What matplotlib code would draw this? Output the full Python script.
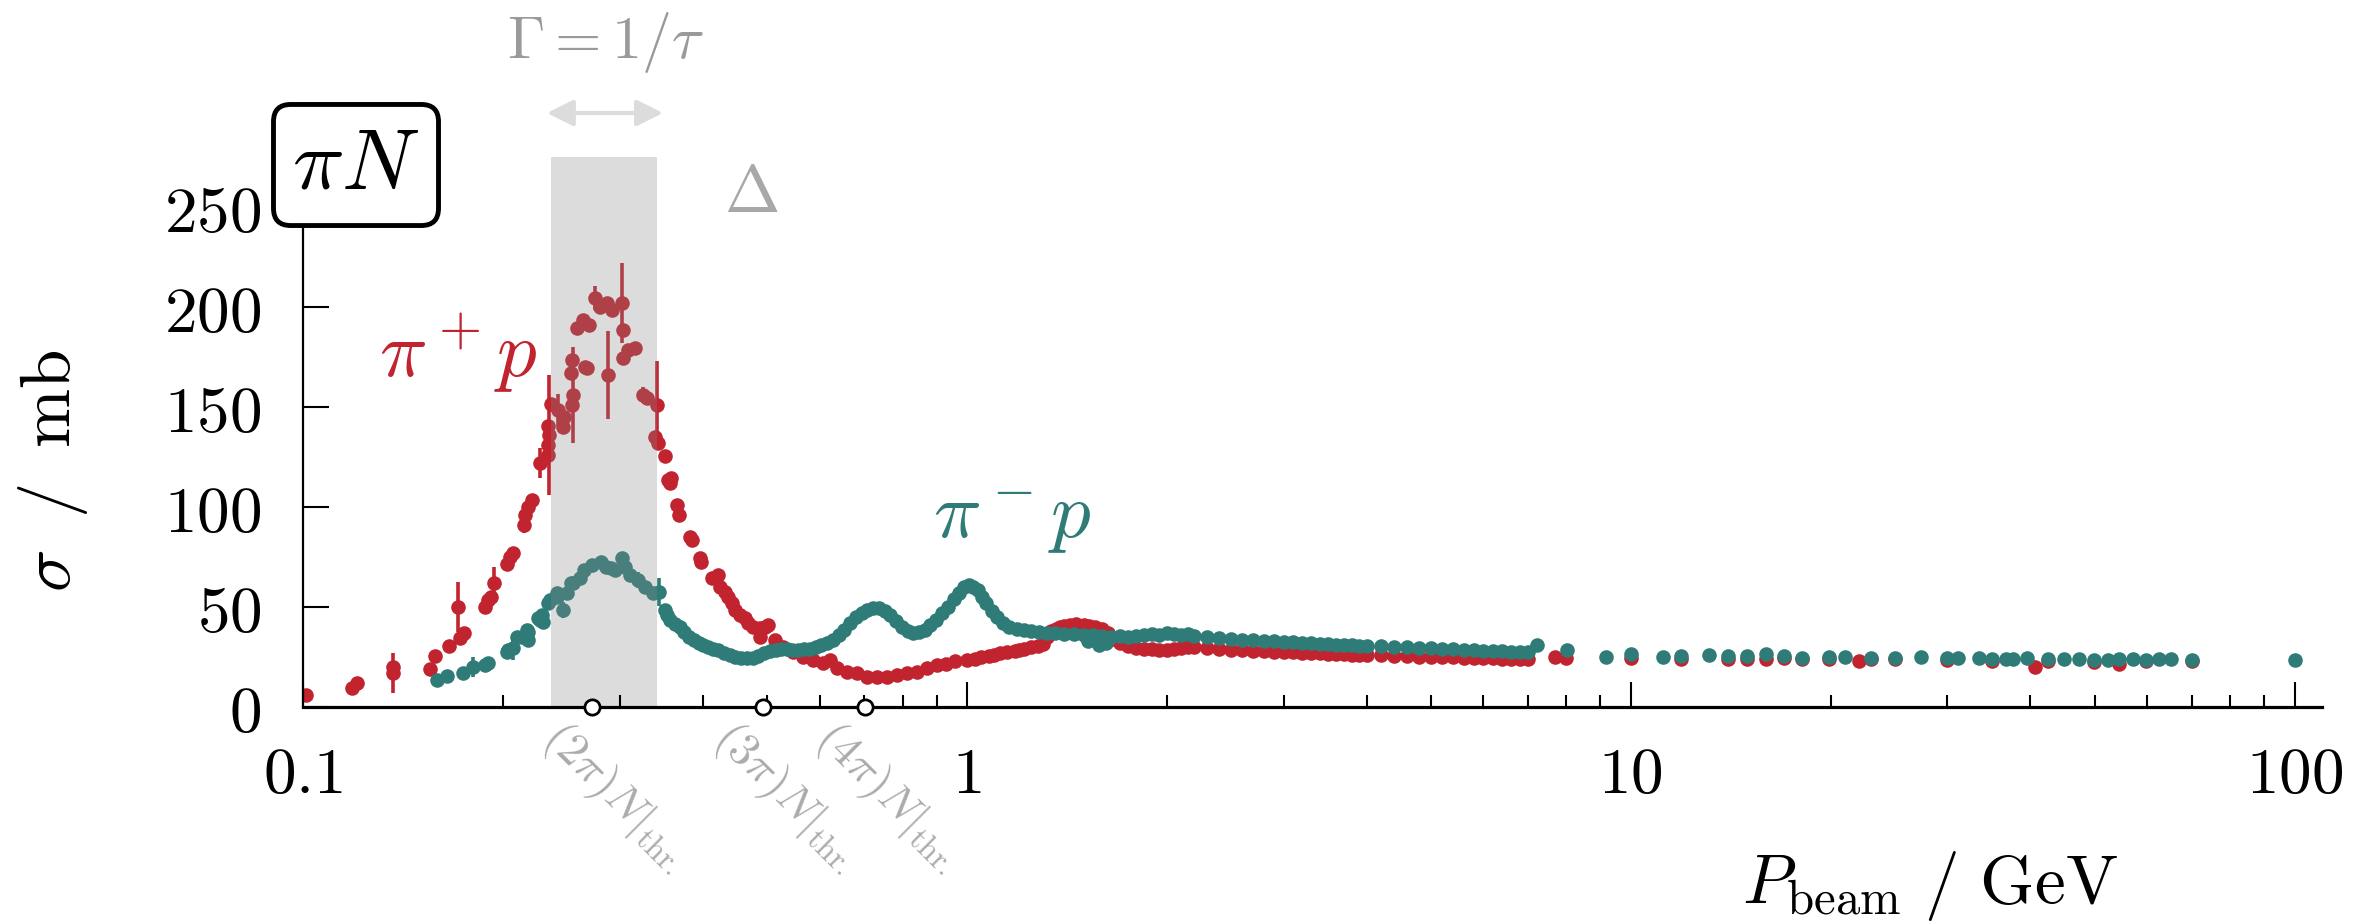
import matplotlib
matplotlib.use('Agg')
import matplotlib.pyplot as plt
from matplotlib.ticker import NullFormatter

plt.rcParams['mathtext.fontset'] = 'cm'
plt.rcParams['font.family'] = ['DejaVu Serif']

# pi+ p total cross section (p_beam [GeV], sigma [mb], error [mb])
pip_p = [0.101, 0.1185, 0.1206, 0.1366, 0.1366, 0.1553, 0.158, 0.166, 0.171, 0.1725,
         0.175, 0.188, 0.190, 0.192, 0.194, 0.203, 0.205, 0.207, 0.215, 0.216,
         0.218, 0.221, 0.2275, 0.2336, 0.234, 0.2336, 0.236, 0.235, 0.242, 0.246,
         0.2475, 0.254, 0.2535, 0.254, 0.255, 0.259, 0.264, 0.266, 0.268, 0.27,
         0.275, 0.28, 0.287, 0.292, 0.288, 0.302, 0.303, 0.303, 0.309, 0.316,
         0.325, 0.33, 0.339, 0.341, 0.342, 0.351, 0.355, 0.358, 0.357, 0.366,
         0.369, 0.383, 0.385, 0.396, 0.398, 0.413, 0.422, 0.425, 0.432, 0.436,
         0.443, 0.447, 0.455, 0.463, 0.468, 0.476, 0.488, 0.497, 0.502, 0.488,
         0.514, 0.528, 0.547, 0.566, 0.586, 0.607, 0.622, 0.637, 0.659, 0.683,
         0.707, 0.732, 0.758, 0.785, 0.812, 0.841, 0.871, 0.901, 0.93, 0.96,
         1.0, 1.03, 1.05, 1.08, 1.1, 1.12, 1.15, 1.18, 1.2, 1.22,
         1.25, 1.28, 1.3, 1.32, 1.34, 1.36, 1.38, 1.4, 1.43, 1.46,
         1.5, 1.53, 1.56, 1.6, 1.63, 1.66, 1.7, 1.75, 1.8, 1.85,
         1.9, 1.95, 2.0, 2.05, 2.1, 2.15, 2.2, 2.3, 2.4, 2.5,
         2.6, 2.7, 2.8, 2.9, 3.0, 3.1, 3.2, 3.3, 3.4, 3.5,
         3.6, 3.7, 3.8, 3.9, 4.0, 4.2, 4.4, 4.6, 4.8, 5.0,
         5.2, 5.4, 5.6, 5.8, 6.0, 6.2, 6.4, 6.6, 6.8, 7.0,
         7.68, 8.0, 10.0, 11.9, 14.0, 14.95, 15.97, 17.0, 18.1, 19.9,
         22.05, 23.0, 25.0, 30.0, 35.0, 40.7, 42.5, 49.8, 54.3, 59.7,
         70.0]
pip_sig = [6, 9.5, 12, 17, 20, 19, 25.5, 30.5, 50, 34.5,
           37, 50, 53.5, 55, 62, 71.5, 75, 77, 91, 96,
           100, 103.5, 122, 131, 126, 140.5, 151.5, 136, 148.5, 140,
           145, 173.5, 167, 151, 156, 189.5, 193.5, 170, 169.5, 191,
           204.5, 200, 202, 198.5, 166, 202, 188.5, 174.5, 178.5, 179.5,
           156, 154.5, 135, 151, 132, 125.5, 113.5, 114.5, 112, 101,
           96, 85, 83.5, 74.5, 72.5, 64.5, 66, 60, 57.5, 55,
           52, 48.5, 46, 44.5, 42, 40, 39.5, 40, 41, 35,
           33.5, 30, 27.5, 25, 23.5, 22, 23.5, 19.5, 17.5, 17,
           15, 15, 15, 16, 17, 17.5, 19.5, 21, 21.5, 23,
           23.5, 24, 25, 25.5, 26, 27, 27.5, 28, 28.5, 29,
           30, 30.5, 31.5, 35, 38, 39, 40, 40.5, 41, 41.5,
           41, 40.5, 40, 39, 37, 34, 32, 30.5, 29.5, 29,
           29, 28.5, 28.5, 29, 29.5, 30, 30, 29.5, 29, 28.5,
           28.5, 28, 28, 27.5, 27.5, 27.5, 27, 27, 27, 26.5,
           26.5, 26.5, 26, 26, 26, 26, 25.5, 25.5, 25, 25,
           25, 25, 24.5, 24.5, 24.5, 24.5, 24, 24, 24, 24,
           25, 24.5, 24.5, 24, 24, 24, 24, 24.5, 24, 24,
           23, 24, 24, 23.5, 23, 20, 23, 22.5, 21.5, 23,
           23]
pip_err = [0, 0, 0, 10, 0, 0, 0, 0, 12.5, 0,
           0, 0, 0, 0, 8, 0, 0, 0, 4, 0,
           0, 0, 7.5, 0, 0, 0, 0, 30, 8, 0,
           0, 0, 0, 0, 24, 0, 0, 0, 0, 0,
           6, 0, 0, 0, 22, 20, 0, 0, 0, 0,
           4, 0, 0, 22, 0, 0, 0, 0, 0, 0]
pip_err = pip_err + [0] * (len(pip_p) - len(pip_err))

# pi- p total cross section
pim_p = [0.159, 0.1648, 0.174, 0.180, 0.188, 0.190, 0.2035, 0.203, 0.207, 0.210,
         0.214, 0.2175, 0.218, 0.218, 0.226, 0.2275, 0.229, 0.23, 0.2336, 0.2355,
         0.241, 0.241, 0.246, 0.250, 0.2533, 0.255, 0.261, 0.265, 0.272, 0.281,
         0.286, 0.291, 0.295, 0.302, 0.306, 0.311, 0.320, 0.327, 0.337, 0.344,
         0.3504, 0.354, 0.3574, 0.363, 0.3694, 0.375, 0.3818, 0.388, 0.3948, 0.401,
         0.4081, 0.415, 0.4218, 0.430, 0.4390, 0.448, 0.4569, 0.466, 0.4755, 0.485,
         0.4949, 0.505, 0.5149, 0.525, 0.5357, 0.546, 0.5575, 0.569, 0.5801, 0.592,
         0.6037, 0.616, 0.6283, 0.641, 0.6538, 0.667, 0.6804, 0.694, 0.7080, 0.722,
         0.7368, 0.752, 0.7667, 0.782, 0.7977, 0.814, 0.8301, 0.847, 0.8638, 0.881,
         0.8990, 0.917, 0.9357, 0.955, 0.9734, 0.99, 1.0063, 1.023, 1.040, 1.054,
         1.068, 1.09, 1.111, 1.134, 1.157, 1.19, 1.220, 1.25, 1.286, 1.32,
         1.357, 1.40, 1.449, 1.50, 1.52, 1.549, 1.58, 1.6, 1.62, 1.65,
         1.7, 1.75, 1.8, 1.85, 1.9, 1.95, 2.0, 2.05, 2.1, 2.15,
         2.2, 2.3, 2.4, 2.5, 2.6, 2.7, 2.8, 2.9, 3.0, 3.1,
         3.2, 3.3, 3.4, 3.5, 3.6, 3.7, 3.8, 3.9, 4.0, 4.2,
         4.4, 4.6, 4.8, 5.0, 5.2, 5.4, 5.6, 5.8, 6.0, 6.2,
         6.4, 6.6, 6.8, 7.0, 7.22, 8.01, 9.17, 10.0, 11.2, 11.9,
         13.1, 14.0, 14.95, 15.97, 17.0, 18.1, 19.9, 21.0, 23.0, 25.0,
         27.4, 30.0, 31.1, 33.5, 35.0, 36.8, 37.6, 39.6, 42.5, 45.0,
         47.3, 49.8, 52.3, 54.3, 57.0, 59.7, 62.4, 65.1, 70.0, 100.0]
pim_sig = [13.5, 15.5, 17, 20, 21, 22, 28.5, 27.5, 29.5, 35,
           35, 38.5, 37.5, 33.5, 44.5, 43.5, 46, 42.5, 52, 53.5,
           55, 57, 48.5, 57, 62, 62, 64.5, 68.5, 71, 72.5,
           70, 69.5, 68.5, 74.5, 70, 66, 63.5, 60, 57, 57.5,
           48.5, 46, 43.5, 41.5, 40, 37.5, 35, 33.5, 32, 31,
           30, 29, 28.5, 27, 26, 25, 24.5, 24.5, 24.5, 25.5,
           27, 28, 28.5, 29, 29, 28.5, 28.5, 29, 29, 30,
           31, 32, 33.5, 36, 38.5, 42, 45, 47, 48.5, 49.5,
           49.5, 48, 46, 43, 40, 38, 37, 37.5, 38.5, 41,
           43.5, 47, 50, 54, 57, 60, 61, 60, 58.5, 55,
           52, 48, 45, 42, 40, 39, 38.5, 38, 37.5, 37,
           37, 36.5, 36.5, 36, 33, 36, 31, 35.5, 32, 35,
           35.5, 35, 35.5, 36, 36.5, 36, 37, 36.5, 36, 36.5,
           35.5, 35, 34.5, 34, 33.5, 33.5, 33, 33, 32.5, 32.5,
           32, 32, 31.5, 31.5, 31, 31, 31, 30.5, 30.5, 30.5,
           30, 30, 29.5, 29.5, 29, 29, 28.5, 28.5, 28, 28,
           28, 27.5, 27.5, 27.5, 31, 28.5, 25, 26.5, 25, 25.5,
           26, 25.5, 25.5, 26.5, 25.5, 24.5, 25, 25, 24.5, 24.5,
           25, 24.5, 24.5, 24.5, 24, 24, 24, 24.5, 24, 24,
           24, 23.5, 23.5, 24, 24, 23.5, 24, 24, 23.5, 23.5]
pim_err = [0, 0, 0, 5, 0, 0, 3, 0, 6, 0,
           0, 0, 0, 0, 0, 0, 0, 0, 0, 0,
           0, 0, 4, 0, 0, 0, 0, 0, 0, 0,
           0, 0, 0, 3, 0, 0, 4, 0, 0, 7]
pim_err = pim_err + [0] * (len(pim_p) - len(pim_err))

# annotations
delta_band = (0.236, 0.341)
thresholds = [0.272, 0.493, 0.702]
threshold_labels = [r'$(2\pi)N|_{\rm thr.}$', r'$(3\pi)N|_{\rm thr.}$', r'$(4\pi)N|_{\rm thr.}$']
xticks = [0.1, 1, 10, 100]
xticklabels = [r'$0.1$', r'$1$', r'$10$', r'$100$']
yticks = [0, 50, 100, 150, 200, 250]
yticklabels = [r'$0$', r'$50$', r'$100$', r'$150$', r'$200$', r'$250$']

red = '#c1232f'
teal = '#2e7b77'

fig = plt.figure(figsize=(23.75, 9.23), dpi=100)
ax = fig.add_axes([0.1276, 0.234, 0.8501, 0.5959])

ax.errorbar(pip_p, pip_sig, yerr=pip_err, fmt='o', ms=10.5, color=red, mec='none',
            elinewidth=2.6, capsize=0, zorder=2)
ax.errorbar(pim_p, pim_sig, yerr=pim_err, fmt='o', ms=10.5, color=teal, mec='none',
            elinewidth=2.6, capsize=0, zorder=2.1)

# Delta resonance band drawn over the data
ax.axvspan(delta_band[0], delta_band[1], color='#888888', alpha=0.29, lw=0, zorder=2.3)

ax.set_xscale('log')
ax.set_xlim(0.1, 110)
ax.set_ylim(0, 275)
ax.set_axisbelow(False)

for s in ['top', 'right']:
    ax.spines[s].set_visible(False)
ax.spines['bottom'].set_linewidth(2.3)
ax.spines['left'].set_linewidth(1.6)

ax.set_xticks(xticks, xticklabels)
ax.xaxis.set_minor_formatter(NullFormatter())
ax.set_yticks(yticks, yticklabels)
ax.tick_params(axis='x', which='major', direction='in', length=18, width=1.5,
               labelsize=47, pad=26)
ax.tick_params(axis='x', which='minor', direction='in', length=9, width=1.5)
ax.tick_params(axis='y', which='major', direction='in', length=19, width=1.5,
               labelsize=47, pad=30)

ax.set_ylabel(r'$\sigma\;\;/\;\;\mathrm{mb}$', fontsize=51, va='center')
ax.yaxis.set_label_coords(-0.124, 0.43)
ax.set_xlabel(r'$P_{\mathrm{beam}}\ /\ \mathrm{GeV}$', fontsize=50, va='center')
ax.xaxis.set_label_coords(0.806, -0.325)

# thresholds
ax.plot(thresholds, [0] * 3, 'o', ms=11, mfc='white', mec='black', mew=2,
        clip_on=False, zorder=5)
for t, lab in zip(thresholds, threshold_labels):
    ax.annotate(lab, xy=(t, 0), xytext=(-17, -4), textcoords='offset points',
                ha='left', va='top', rotation=-45, rotation_mode='anchor',
                fontsize=33, color='#ababab', annotation_clip=False)

# labels
ax.text(0.171, 165.5, r'$\pi^+p$', color=red, fontsize=57, ha='center', va='baseline')
ax.text(1.169, 84.5, r'$\pi^-p$', color=teal, fontsize=57, ha='center', va='baseline')
ax.text(0.473, 257, r'$\Delta$', color='#a8a8a8', fontsize=48, ha='center', va='center')
ax.text(0.285, 324.5, r'$\Gamma = 1/\tau$', color='#9a9a9a', fontsize=43,
        ha='center', va='baseline', clip_on=False)
ax.annotate('', xy=(0.3485, 297), xytext=(0.233, 297),
            arrowprops=dict(arrowstyle='<|-|>', color='#dcdcdc', lw=3,
                            mutation_scale=40, shrinkA=0, shrinkB=0),
            annotation_clip=False)

fig.text(356 / 2375, 1 - 165 / 923, r'$\pi N$', fontsize=62, ha='center', va='center',
         bbox=dict(boxstyle='round,pad=0.22,rounding_size=0.2', fc='white',
                   ec='black', lw=3.5), zorder=10)

fig.savefig('out.png', dpi=100)
